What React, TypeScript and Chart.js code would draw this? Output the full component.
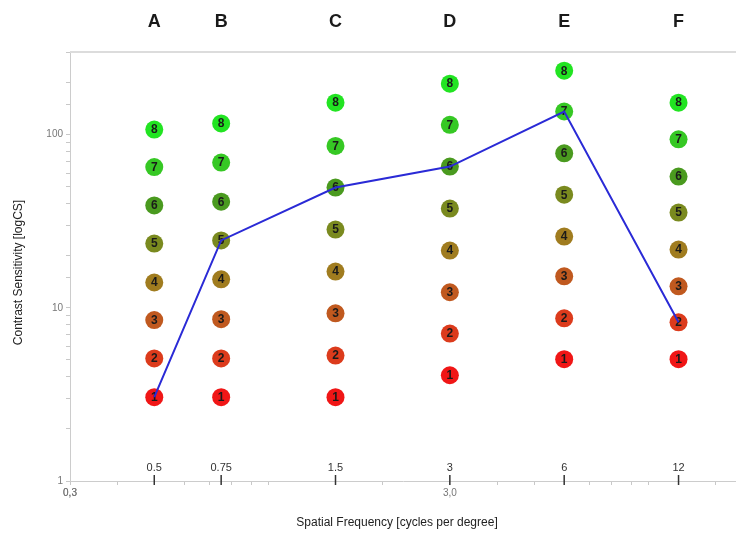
import React, { useEffect, useRef } from 'react';
import { Chart, registerables } from 'chart.js';

Chart.register(...registerables);

const letters = ['A', 'B', 'C', 'D', 'E', 'F'];
const frequencies = [0.5, 0.75, 1.5, 3, 6, 12];
const frequencyLabels = ['0.5', '0.75', '1.5', '3', '6', '12'];

// contrast sensitivity for levels 1..8 in each column
const levelsA = [3.05, 5.1, 8.5, 14.0, 23.5, 39, 65, 107];
const levelsB = [3.05, 5.1, 8.6, 14.6, 24.5, 41, 69, 116];
const levelsC = [3.05, 5.3, 9.3, 16.2, 28.3, 49.5, 86, 153];
const levelsD = [4.08, 7.1, 12.3, 21.4, 37.4, 65.4, 114, 197];
const levelsE = [5.05, 8.7, 15.2, 25.8, 45, 78, 136, 234];
const levelsF = [5.05, 8.25, 13.3, 21.7, 35.5, 57.3, 94, 153];
const columns = [levelsA, levelsB, levelsC, levelsD, levelsE, levelsF];

// level chosen in each column (1-based), joined by the blue line
const selectedLevel = [1, 5, 6, 6, 7, 2];

const levelNames = ['1', '2', '3', '4', '5', '6', '7', '8'];
const levelColors = ['#f01616', '#dc3b1c', '#c0591f', '#a07c1f', '#7a8a1f', '#4a9a1f', '#36c824', '#22e422'];

const yLabelValues = [1, 10, 100];
const xLabelValues = [0.3, 3];
const xLabelTexts = ['0,3', '3,0'];

const FONT = '"Liberation Sans", Arial, sans-serif';

const overlay = {
  id: 'overlay',
  afterDatasetDraw(chart: any, args: any) {
    if (args.index === 0) return;
    const ctx = chart.ctx;
    const lvl = args.index - 1;
    ctx.save();
    ctx.font = `bold 12px ${FONT}`;
    ctx.fillStyle = '#1a1a1a';
    ctx.textAlign = 'center';
    ctx.textBaseline = 'middle';
    args.meta.data.forEach((el: any) => {
      ctx.fillText(levelNames[lvl], el.x, el.y + 0.5);
    });
    ctx.restore();
  },
  afterDraw(chart: any) {
    const ctx = chart.ctx;
    const area = chart.chartArea;
    const xs = chart.scales.x;
    ctx.save();
    // top border
    ctx.strokeStyle = '#dcdcdc';
    ctx.lineWidth = 2;
    ctx.beginPath();
    ctx.moveTo(area.left, area.top);
    ctx.lineTo(area.right, area.top);
    ctx.stroke();
    // column letters
    ctx.fillStyle = '#1a1a1a';
    ctx.textAlign = 'center';
    ctx.textBaseline = 'middle';
    ctx.font = `bold 18px ${FONT}`;
    frequencies.forEach((f, i) => {
      ctx.fillText(letters[i], xs.getPixelForValue(f), 22);
    });
    // frequency labels and marks
    ctx.font = `11px ${FONT}`;
    ctx.fillStyle = '#333';
    ctx.textBaseline = 'alphabetic';
    ctx.strokeStyle = '#333';
    ctx.lineWidth = 1.5;
    frequencies.forEach((f, i) => {
      const px = xs.getPixelForValue(f);
      ctx.fillText(frequencyLabels[i], px, area.bottom - 10);
      ctx.beginPath();
      ctx.moveTo(px, area.bottom - 6);
      ctx.lineTo(px, area.bottom + 4);
      ctx.stroke();
    });
    // axis titles
    ctx.fillStyle = '#222';
    ctx.font = `12px ${FONT}`;
    ctx.textBaseline = 'middle';
    ctx.fillText('Spatial Frequency [cycles per degree]', 397, 523);
    ctx.translate(19, (area.top + area.bottom) / 2 + 6);
    ctx.rotate(-Math.PI / 2);
    ctx.fillText('Contrast Sensitivity [logCS]', 0, 0);
    ctx.restore();
  },
};

export default function App() {
  const ref = useRef<HTMLCanvasElement | null>(null);
  useEffect(() => {
    if (!ref.current) return;
    const lineData = frequencies.map((f, i) => ({ x: f, y: columns[i][selectedLevel[i] - 1] }));
    const levelSets = levelNames.map((name, l) => ({
      label: 'Level ' + name,
      data: frequencies.map((f, i) => ({ x: f, y: columns[i][l] })),
      backgroundColor: levelColors[l],
      borderWidth: 0,
      pointRadius: 9,
      pointHoverRadius: 9,
      showLine: false,
    }));
    const chart = new Chart(ref.current, {
      type: 'scatter',
      data: {
        datasets: [
          {
            label: 'Selected',
            data: lineData,
            showLine: true,
            borderColor: '#2a2ad6',
            borderWidth: 2,
            pointRadius: 0,
            tension: 0,
          },
          ...levelSets,
        ] as any,
      },
      options: {
        responsive: false,
        animation: false,
        layout: { autoPadding: false, padding: { top: 52, left: 0, right: 0, bottom: 0 } },
        plugins: { legend: { display: false }, tooltip: { enabled: false } },
        scales: {
          x: {
            type: 'logarithmic',
            min: 0.3,
            max: 17,
            afterFit: (s: any) => {
              s.height = 53;
              s.paddingLeft = 0;
              s.paddingRight = 0;
            },
            border: { color: '#cccccc', width: 1 },
            grid: { drawOnChartArea: false, drawTicks: true, tickLength: 4, color: '#c8c8c8' },
            ticks: {
              autoSkip: false,
              maxRotation: 0,
              padding: 2,
              color: '#777',
              font: { family: FONT, size: 10 },
              callback: (v: any) => {
                const idx = xLabelValues.findIndex((t) => Math.abs(t - Number(v)) < 1e-6);
                return idx >= 0 ? xLabelTexts[idx] : '';
              },
            },
          },
          y: {
            type: 'logarithmic',
            min: 1,
            max: 300,
            afterFit: (s: any) => {
              s.width = 70;
              s.paddingTop = 0;
              s.paddingBottom = 0;
            },
            border: { color: '#cccccc', width: 1 },
            grid: { drawOnChartArea: false, drawTicks: true, tickLength: 4, color: '#c8c8c8' },
            ticks: {
              autoSkip: false,
              padding: 3,
              color: '#777',
              font: { family: FONT, size: 10 },
              callback: (v: any) => {
                const idx = yLabelValues.findIndex((t) => Math.abs(t - Number(v)) < 1e-6);
                return idx >= 0 ? String(yLabelValues[idx]) : '';
              },
            },
          },
        },
      },
      plugins: [overlay],
    });
    return () => chart.destroy();
  }, []);
  return (
    <div style={{ position: 'absolute', left: 0, top: 0, width: 736, height: 534, background: '#fff' }}>
      <canvas ref={ref} width={736} height={534} style={{ width: 736, height: 534, display: 'block' }} />
    </div>
  );
}
